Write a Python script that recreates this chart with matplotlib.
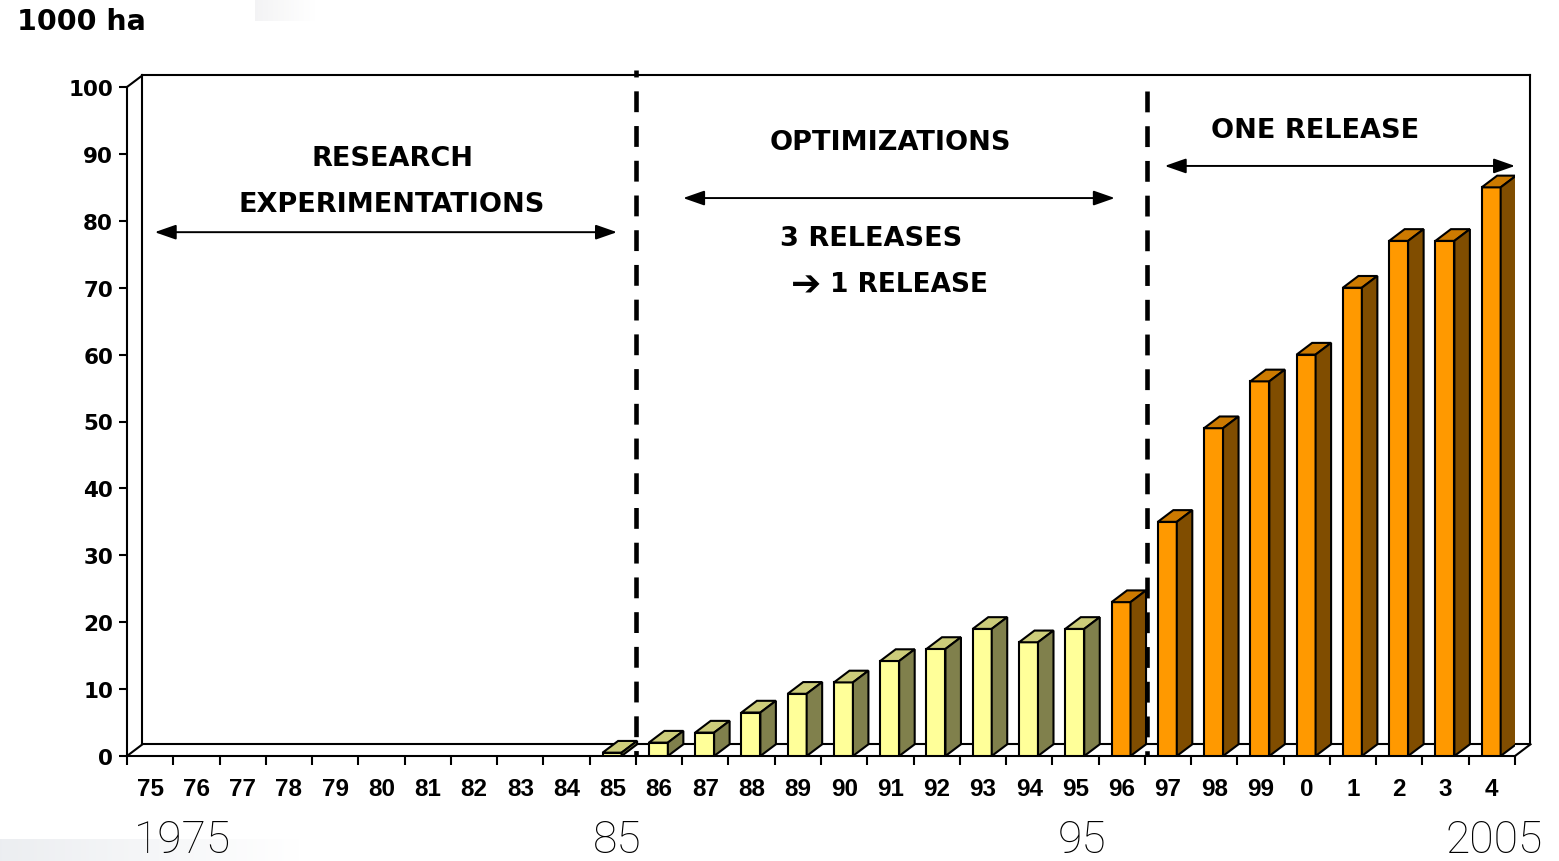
import numpy as np
import matplotlib
matplotlib.use("Agg")
import matplotlib.pyplot as plt
from matplotlib.patches import Polygon

plt.rcParams["lines.scale_dashes"] = False

# ---- data -----------------------------------------------------------------
years = ["75", "76", "77", "78", "79", "80", "81", "82", "83", "84",
         "85", "86", "87", "88", "89", "90", "91", "92", "93", "94",
         "95", "96", "97", "98", "99", "0", "1", "2", "3", "4"]
hectares = [np.nan] * 10 + [0.5, 2, 3.5, 6.5, 9.3, 11, 14.2, 16, 19, 17,
                            19, 23, 35, 49, 56, 60, 70, 77, 77, 85]
shade = ["pale"] * 21 + ["amber"] * 9
y_ticks = list(range(0, 101, 10))
decade_marks = ["1975", "85", "95", "2005"]

# front / top / side colours of the 3-D columns
palette = {"pale": ("#FFFF99", "#CCCC7A", "#80804C"),
           "amber": ("#FF9900", "#CC7A00", "#804D00")}

# ---- figure and axes ------------------------------------------------------
W, H = 1559, 862
fig = plt.figure(figsize=(W / 100, H / 100), dpi=100)
fig.patch.set_facecolor("white")

# faint grey bands in the slide background
band = fig.add_axes([0, 0, 300 / W, 22 / H], zorder=-5)
grad = np.linspace(0, 1, 256)[None, :]
band.imshow(np.dstack([0.925 + 0.075 * grad, 0.933 + 0.067 * grad,
                       0.945 + 0.055 * grad]), aspect="auto",
            extent=[0, 1, 0, 1])
band.axis("off")
band2 = fig.add_axes([255 / W, 1 - 22 / H, 60 / W, 22 / H], zorder=-5)
band2.imshow(np.dstack([0.955 + 0.045 * grad, 0.955 + 0.045 * grad,
                        0.96 + 0.04 * grad]), aspect="auto",
             extent=[0, 1, 0, 1])
band2.axis("off")

x0px, x1px, y0px, y1px = 127, 1515, 757, 88
ax = fig.add_axes([x0px / W, 1 - y0px / H, (x1px - x0px) / W,
                   (y0px - y1px) / H])
n = len(years)
ax.set_xlim(0, n)
ax.set_ylim(0, 100)
ax.set_facecolor("none")

DX, DY = 0.335, 1.75      # depth offset of the 3-D box
OFF, BW = 0.28, 0.41      # column position inside its category

LW = 1.5
# back wall, floor and connecting edges
wall = dict(color="black", lw=LW, clip_on=False, zorder=1,
            solid_capstyle="projecting")
ax.plot([DX, n + DX], [100 + DY, 100 + DY], **wall)
ax.plot([DX, DX], [DY, 100 + DY], **wall)
ax.plot([n + DX, n + DX], [DY, 100 + DY], **wall)
ax.plot([DX, n + DX], [DY, DY], **wall)
ax.plot([0, DX], [0, DY], **wall)
ax.plot([n, n + DX], [0, DY], **wall)
ax.plot([0, DX], [100, 100 + DY], **wall)

# spines / ticks
for s in ("top", "right"):
    ax.spines[s].set_visible(False)
for s in ("left", "bottom"):
    ax.spines[s].set_linewidth(LW)
ax.set_yticks(y_ticks)
ax.set_yticklabels([str(t) for t in y_ticks], fontfamily="DejaVu Sans",
                   fontweight="bold", fontsize=15.5)
ax.tick_params(axis="y", direction="out", length=6, width=LW, pad=4)
ax.set_xticks(np.arange(0, n + 1))
ax.set_xticklabels([])
ax.tick_params(axis="x", which="major", direction="out", length=6.5, width=LW)
ax.set_xticks(np.arange(n) + 0.5, minor=True)
ax.set_xticklabels(years, minor=True, fontfamily="Liberation Sans",
                   fontweight="bold", fontsize=17.5)
ax.tick_params(axis="x", which="minor", length=0, pad=15)

# 3-D columns
for i, (v, g) in enumerate(zip(hectares, shade)):
    if np.isnan(v):
        continue
    front, top, side = palette[g]
    xl = i + OFF
    xr = xl + BW
    ax.bar(xl, v, width=BW, align="edge", color=front, edgecolor="black",
           linewidth=LW, zorder=3)
    ax.add_patch(Polygon([(xl, v), (xr, v), (xr + DX, v + DY), (xl + DX, v + DY)],
                         closed=True, facecolor=top, edgecolor="black",
                         linewidth=LW, zorder=3, joinstyle="miter"))
    ax.add_patch(Polygon([(xr, 0), (xr + DX, DY), (xr + DX, v + DY), (xr, v)],
                         closed=True, facecolor=side, edgecolor="black",
                         linewidth=LW, zorder=3, joinstyle="miter"))

# phase separators
ax.plot([11, 11], [102.5, 0], color="black", lw=3.3, clip_on=False,
        zorder=4, linestyle=(10, (15, 10)), dash_capstyle="butt")
ax.plot([22.05, 22.05], [99.4, 0], color="black", lw=3.3, clip_on=False,
        zorder=4, linestyle=(0, (15, 10)), dash_capstyle="butt")

# phase arrows
arrow = dict(arrowstyle="<|-|>,head_length=1.0,head_width=0.35",
             color="black", lw=1.4, mutation_scale=13,
             shrinkA=0, shrinkB=0)
ax.annotate("", xy=(10.59, 78.3), xytext=(0.6, 78.3), arrowprops=arrow,
            annotation_clip=False, zorder=5)
ax.annotate("", xy=(21.35, 83.4), xytext=(12.02, 83.4), arrowprops=arrow,
            annotation_clip=False, zorder=5)
ax.annotate("", xy=(30.0, 88.2), xytext=(22.43, 88.2), arrowprops=arrow,
            annotation_clip=False, zorder=5)

lab = dict(fontfamily="DejaVu Sans", fontweight="bold", fontsize=19.5,
           ha="center", va="center", zorder=6)
ax.text(5.73, 89.4, "RESEARCH", **lab)
ax.text(5.73, 82.5, "EXPERIMENTATIONS", **lab)
ax.text(16.51, 91.8, "OPTIMIZATIONS", **lab)
ax.text(16.08, 77.4, "3 RELEASES", **lab)
ax.text(14.67, 70.5, "\u2794", fontfamily="DejaVu Sans", fontweight="bold",
        fontsize=26, ha="center", va="center", zorder=6)
ax.text(15.2, 70.6, "1 RELEASE", fontfamily="DejaVu Sans",
        fontweight="bold", fontsize=19, ha="left", va="center", zorder=6)
ax.text(25.67, 93.6, "ONE RELEASE", **lab)

# unit label
fig.text(17 / W, 1 - 22 / H, "1000 ha", fontfamily="DejaVu Sans",
         fontweight="bold", fontsize=20.5, ha="left", va="center")

# decade markers under the axis
for lbl, xpx in zip(decade_marks, [183, 617, 1082, 1494]):
    fig.text(xpx / W, 1 - 841 / H, lbl, fontfamily=["Roboto", "DejaVu Sans"],
             fontweight="light", fontsize=32, color="black",
             ha="center", va="center")

fig.savefig("out.png", dpi=100)
